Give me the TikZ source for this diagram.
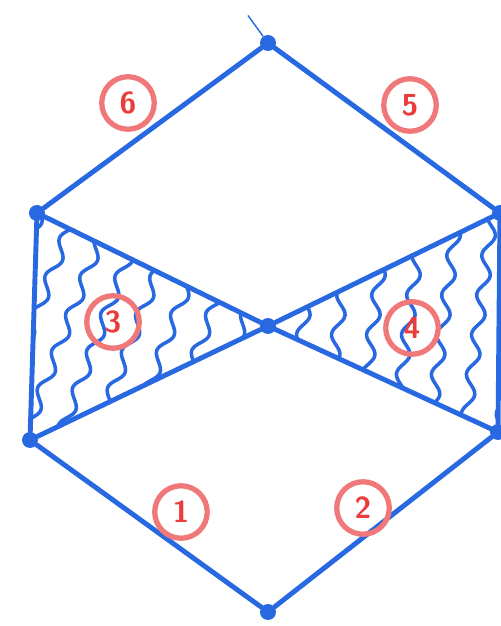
\documentclass[tikz,border=0pt]{standalone}
\usepackage{tikz}
\usetikzlibrary{positioning,decorations.pathmorphing}
\definecolor{pencol}{RGB}{40,105,225}
\definecolor{markcol}{RGB}{240,120,120}
\definecolor{digcol}{RGB}{235,60,60}

\begin{document}
\begin{tikzpicture}[
  vtx/.style={circle, fill=pencol, inner sep=0pt, minimum size=0.32cm},
  edge/.style={draw=pencol, line width=2.8pt, line cap=round},
  wave/.style={draw=pencol, line width=2pt, line cap=round,
               decorate, decoration={snake, segment length=0.8cm, amplitude=0.11cm}},
  tag/.style={circle, draw=markcol, line width=3pt, minimum width=1.05cm,
              inner sep=0pt, text=digcol, font=\sffamily\bfseries\LARGE}
]
\useasboundingbox (0,0) rectangle (10.02,12.52);

\node[vtx] (top) at (5.36, 11.66) {};
\node[vtx] (ul)  at (0.74, 8.26)  {};
\node[vtx] (ll)  at (0.60, 3.72)  {};
\node[vtx] (bot) at (5.36, 0.28)  {};
\node[vtx] (lr)  at (9.96, 3.88)  {};
\node[vtx] (ur)  at (10.0, 8.26)  {};
\node[vtx] (mid) at (5.36, 6.00)  {};

% wavy hatching of the two triangles
\begin{scope}
  \clip (ul.center) -- (ll.center) -- (mid.center) -- cycle;
  \foreach \x in {-1.9,-1.2,...,4.4}
    \draw[wave] (\x, 3.0) -- ++(2.2, 5.8);
\end{scope}
\begin{scope}
  \clip (ur.center) -- (lr.center) -- (mid.center) -- cycle;
  \foreach \x in {5.7,6.4,...,10.1}
    \draw[wave] (\x, 3.2) -- ++(0.7, 5.4);
\end{scope}

% outline
\draw[edge] (top) -- (ul) -- (ll) -- (bot) -- (lr) -- (ur) -- (top);
\draw[edge] (ul) -- (mid) -- (lr);
\draw[edge] (ll) -- (mid) -- (ur);
\draw[pencol, line width=0.8pt] (top) -- ++(-0.4, 0.55);

% numbered regions
\node[tag] (t6) at (2.56, 10.46) {6};
\node[tag] (t5) at (8.20, 10.42) {5};
\node[tag] (t3) at (2.26, 6.08)  {3};
\node[tag] (t4) at (8.24, 5.96)  {4};
\node[tag] (t1) at (3.62, 2.28)  {1};
\node[tag] (t2) at (7.26, 2.36)  {2};

\end{tikzpicture}
\end{document}
